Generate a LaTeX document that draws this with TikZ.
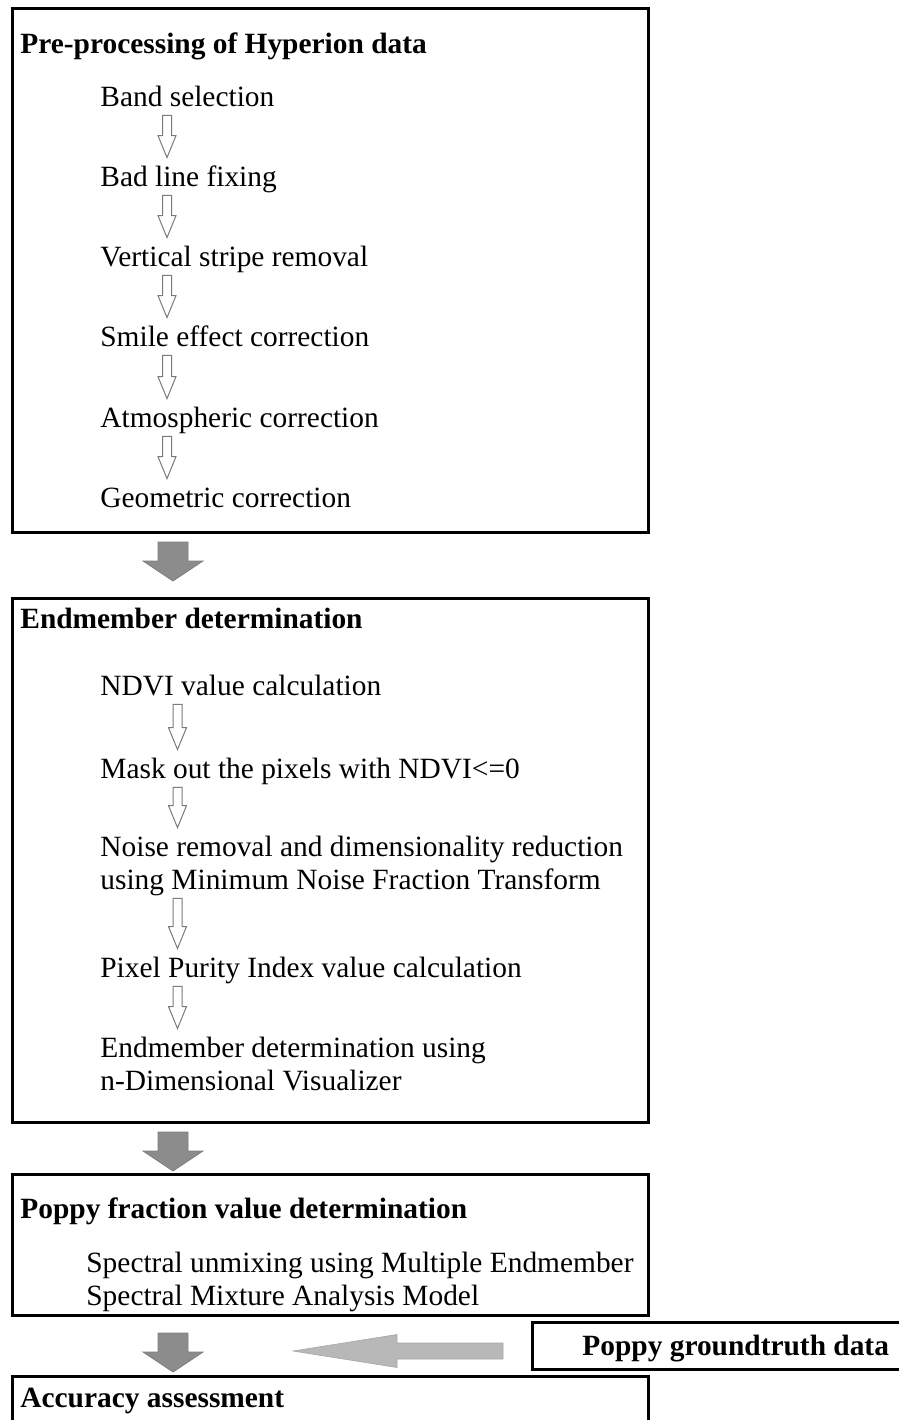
\documentclass[tikz,border=0pt]{standalone}
\usepackage{fontspec}
\setmainfont{Liberation Serif}
\usetikzlibrary{calc}
\definecolor{blockgray}{HTML}{8C8C8C}
\definecolor{sidegray}{HTML}{B8B8B8}
\definecolor{linegray}{HTML}{7A7A7A}
\tikzset{
  stage/.style={draw, line width=1.5pt, inner sep=0pt, outer sep=0pt, minimum width=318pt, anchor=north west},
  head/.style={anchor=base west, inner sep=0pt, font=\fontsize{14.7}{16.5}\selectfont\bfseries},
  item/.style={anchor=base west, inner sep=0pt, text height=14pt, text depth=4.5pt, font=\fontsize{14.7}{16.5}\selectfont},
  hollow/.style={draw=linegray, line width=0.5pt, fill=white, to path={
    let \p1=(\tikztostart.south west), \p2=(\tikztotarget.north) in
    (\x1+#1-2.25pt,\y1) -- (\x1+#1+2.25pt,\y1) -- (\x1+#1+2.25pt,\y2+11pt) -- (\x1+#1+4.5pt,\y2+11pt)
    -- (\x1+#1,\y2) -- (\x1+#1-4.5pt,\y2+11pt) -- (\x1+#1-2.25pt,\y2+11pt) -- cycle}},
  bigflow/.style 2 args={draw=blockgray!90!black, line width=0.4pt, fill=blockgray, to path={
    let \p1=(\tikztostart.south west), \p2=(\tikztotarget.north west) in
    (\x1+73pt,\y1-#1) -- (\x1+88pt,\y1-#1) -- (\x1+88pt,\y2+#2+10pt) -- (\x1+95.5pt,\y2+#2+10pt)
    -- (\x1+80.5pt,\y2+#2) -- (\x1+65.5pt,\y2+#2+10pt) -- (\x1+73pt,\y2+#2+10pt) -- cycle}},
  sideflow/.style={draw=sidegray!90!black, line width=0.3pt, fill=sidegray, to path={
    let \p1=(\tikztostart.west), \p2=(\tikztotarget) in
    (\x1-14.5pt,\y2+4pt) -- (\x2+52pt,\y2+4pt) -- (\x2+52pt,\y2+8.25pt) -- (\x2,\y2)
    -- (\x2+52pt,\y2-8.25pt) -- (\x2+52pt,\y2-4pt) -- (\x1-14.5pt,\y2-4pt) -- cycle}}
}
\begin{document}
\begin{tikzpicture}[x=0.5pt, y=-0.5pt]
  \useasboundingbox (0,0) rectangle (899,1420);
  \clip (0,0) rectangle (899,1420);
  % stages
  \node[stage, minimum height=262pt] (pre) at (12,8) {};
  \node[stage, minimum height=262pt] (endm) at (12,598) {};
  \node[stage, minimum height=70.5pt] (frac) at (12,1174) {};
  \node[stage, minimum height=40pt] (acc) at (12,1376) {};
  \node[stage, minimum width=186.5pt, minimum height=23.5pt] (truth) at (532,1322) {};
  % pre-processing
  \node[head] (prehead) at (20,53) {Pre-processing of Hyperion data};
  \node[item] (band) at (100,106) {Band selection};
  \node[item] (badline) at (100,186) {Bad line fixing};
  \node[item] (stripe) at (100,266) {Vertical stripe removal};
  \node[item] (smile) at (100,346) {Smile effect correction};
  \node[item] (atmo) at (100,427) {Atmospheric correction};
  \node[item] (geo) at (100,507) {Geometric correction};
  \draw[hollow=33.5pt] (band) to (badline);
  \draw[hollow=33.5pt] (badline) to (stripe);
  \draw[hollow=33.5pt] (stripe) to (smile);
  \draw[hollow=33.5pt] (smile) to (atmo);
  \draw[hollow=33.5pt] (atmo) to (geo);
  % endmember determination
  \node[head] (endmhead) at (20,628) {Endmember determination};
  \node[item] (ndvi) at (100,695) {NDVI value calculation};
  \node[item] (mask) at (100,778) {Mask out the pixels with NDVI<=0};
  \node[item] (mnf) at (100,856) {Noise removal and dimensionality reduction};
  \node[item] (mnf2) at (100,889) {using Minimum Noise Fraction Transform};
  \node[item] (ppi) at (100,977) {Pixel Purity Index value calculation};
  \node[item] (ndv) at (100,1057) {Endmember determination using};
  \node[item] (ndv2) at (100,1090) {n-Dimensional Visualizer};
  \draw[hollow=38.75pt] (ndvi) to (mask);
  \draw[hollow=38.75pt] (mask) to (mnf);
  \draw[hollow=38.75pt] (mnf2) to (ppi);
  \draw[hollow=38.75pt] (ppi) to (ndv);
  % fraction and accuracy
  \node[head] (frachead) at (20,1218) {Poppy fraction value determination};
  \node[item] (mesma) at (86,1272) {Spectral unmixing using Multiple Endmember};
  \node[item] (mesma2) at (86,1305) {Spectral Mixture Analysis Model};
  \node[head] (acchead) at (20,1407) {Accuracy assessment};
  \node[head] (truthtext) at (582,1355) {Poppy groundtruth data};
  % flow between stages
  \draw[bigflow={5pt}{8.5pt}] (pre) to (endm);
  \draw[bigflow={5pt}{1.5pt}] (endm) to (frac);
  \draw[bigflow={9pt}{2pt}] (frac) to (acc);
  \coordinate (merge) at (293,1351);
  \draw[sideflow] (truth) to (merge);
\end{tikzpicture}
\end{document}
